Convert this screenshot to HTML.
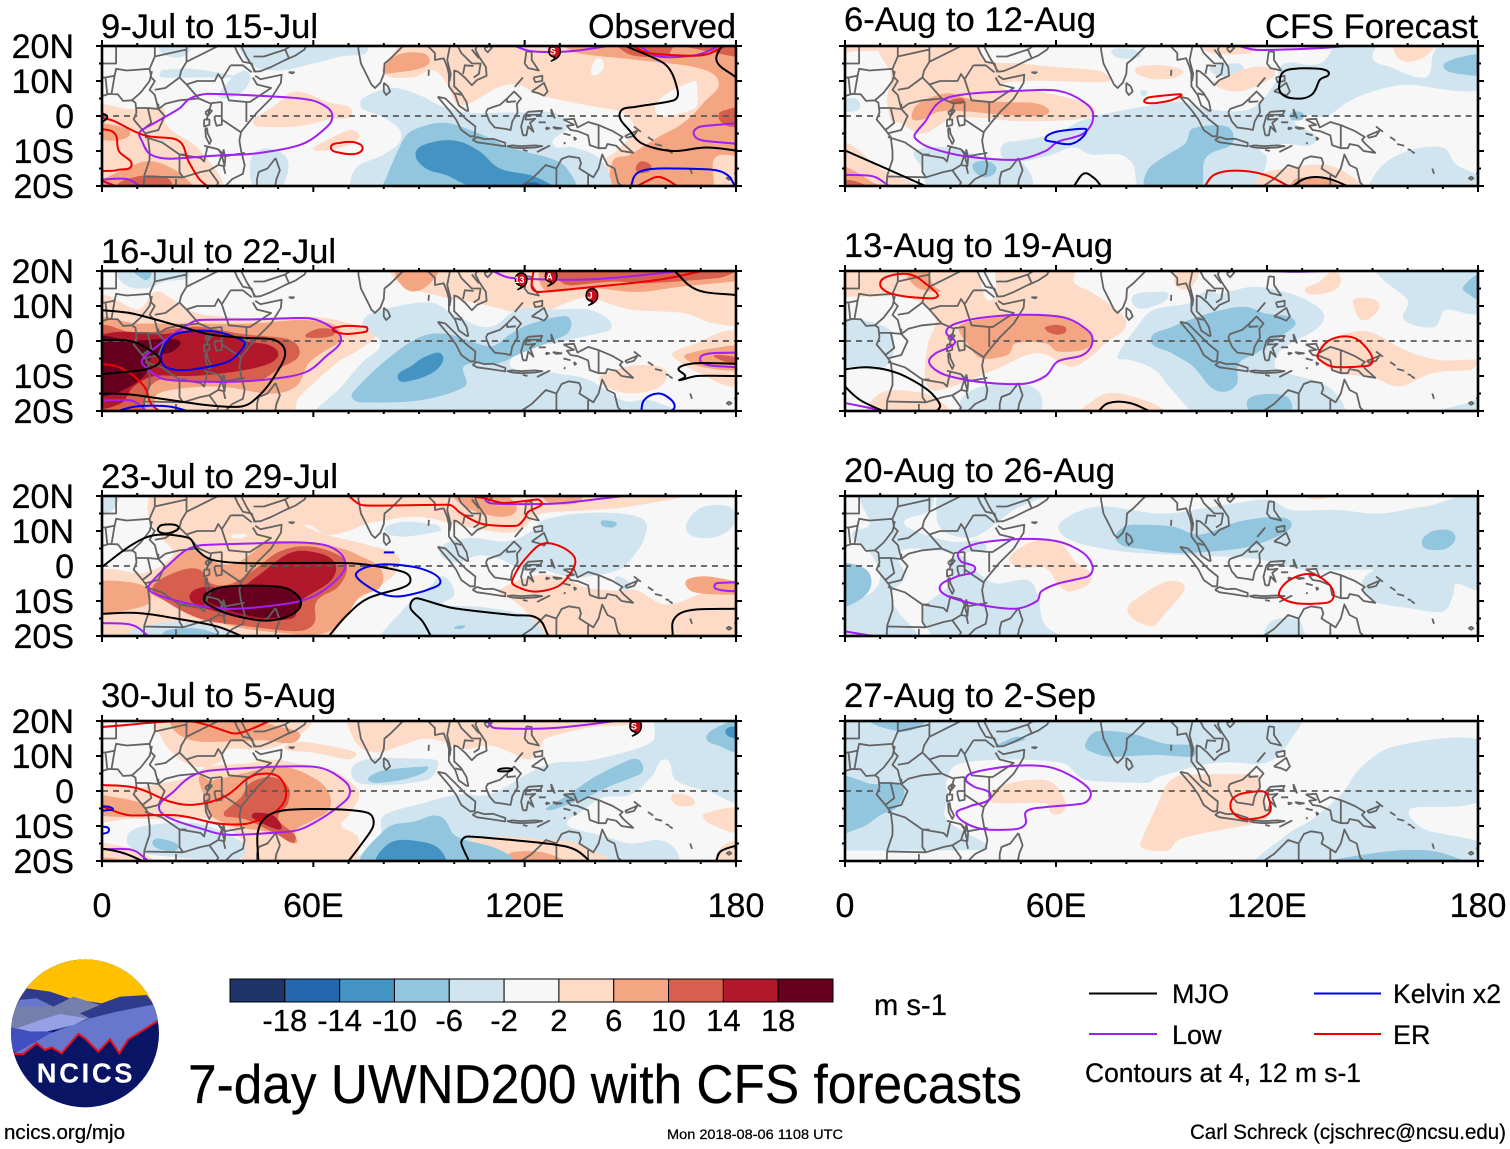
<!DOCTYPE html>
<html lang="en">
<head>
<meta charset="utf-8">
<title>7-day UWND200 with CFS forecasts</title>
<style>
html,body{margin:0;padding:0;background:#fff;}
svg{display:block;font-family:"Liberation Sans",sans-serif;}
text{fill:#000;stroke:#000;stroke-width:0.25;}
</style>
</head>
<body>
<svg id="chart" xmlns="http://www.w3.org/2000/svg" width="1510" height="1149" viewBox="0 0 1510 1149">
<rect width="1510" height="1149" fill="#fff"/>
<g id="panels"></g>

<g font-size="34">
<text x="101" y="38" textLength="217" lengthAdjust="spacingAndGlyphs">9-Jul to 15-Jul</text>
<text x="588" y="38" textLength="148" lengthAdjust="spacingAndGlyphs">Observed</text>
<text x="101" y="263" textLength="235" lengthAdjust="spacingAndGlyphs">16-Jul to 22-Jul</text>
<text x="101" y="488" textLength="237" lengthAdjust="spacingAndGlyphs">23-Jul to 29-Jul</text>
<text x="101" y="707" textLength="235" lengthAdjust="spacingAndGlyphs">30-Jul to 5-Aug</text>
<text x="844" y="31" textLength="252" lengthAdjust="spacingAndGlyphs">6-Aug to 12-Aug</text>
<text x="1265" y="38" textLength="213" lengthAdjust="spacingAndGlyphs">CFS Forecast</text>
<text x="844" y="257" textLength="269" lengthAdjust="spacingAndGlyphs">13-Aug to 19-Aug</text>
<text x="844" y="482" textLength="271" lengthAdjust="spacingAndGlyphs">20-Aug to 26-Aug</text>
<text x="844" y="707" textLength="252" lengthAdjust="spacingAndGlyphs">27-Aug to 2-Sep</text>
</g>

<g id="colorbar"></g>
<text x="874" y="1015" font-size="30" textLength="73" lengthAdjust="spacingAndGlyphs">m s-1</text>

<text x="188" y="1103" font-size="55" textLength="834" lengthAdjust="spacingAndGlyphs">7-day UWND200 with CFS forecasts</text>

<g font-size="27">
<line x1="1089" x2="1157" y1="993.5" y2="993.5" stroke="#000" stroke-width="2"/>
<text x="1172" y="1003">MJO</text>
<line x1="1314" x2="1381" y1="993.5" y2="993.5" stroke="#0000ee" stroke-width="2"/>
<text x="1393" y="1003" textLength="108" lengthAdjust="spacingAndGlyphs">Kelvin x2</text>
<line x1="1089" x2="1157" y1="1034" y2="1034" stroke="#a020f0" stroke-width="2"/>
<text x="1172" y="1044">Low</text>
<line x1="1314" x2="1381" y1="1034" y2="1034" stroke="#ee0000" stroke-width="2"/>
<text x="1393" y="1044">ER</text>
<text x="1085" y="1082" textLength="276" lengthAdjust="spacingAndGlyphs">Contours at 4, 12 m s-1</text>
</g>

<text x="1190" y="1139" font-size="21" textLength="316" lengthAdjust="spacingAndGlyphs">Carl Schreck (cjschrec@ncsu.edu)</text>
<text x="4" y="1139" font-size="20" textLength="121" lengthAdjust="spacingAndGlyphs">ncics.org/mjo</text>
<text x="667" y="1139" font-size="13.5" textLength="176" lengthAdjust="spacingAndGlyphs">Mon 2018-08-06 1108 UTC</text>

<g transform="translate(0,950) scale(0.3333)">
<defs><clipPath id="logoClip"><circle cx="255" cy="250" r="222"/></clipPath></defs>
<g clip-path="url(#logoClip)">
<rect x="20" y="20" width="470" height="460" fill="#0a1464"/>
<rect x="20" y="20" width="470" height="160" fill="#ffc000"/>
<path d="M20,200 L80,115 L150,125 L210,145 L305,160 L360,140 L440,135 L490,200 L300,240 L20,240Z" fill="#2f3b8c"/>
<path d="M30,200 L60,150 L110,145 L160,170 L220,140 L300,165 L240,190 L270,205 L100,230 L30,240Z" fill="#7480ab"/>
<path d="M60,150 L110,145 L150,168 L85,170 L50,170Z" fill="#6677cc"/>
<path d="M270,205 L350,185 L480,160 L480,210 L385,268 L358,310 L330,268 L295,305 L235,252 L185,310 L155,292 L135,300 L110,280 L70,312 L40,312 L150,250Z" fill="#6677cc"/>
<path d="M50,235 L120,210 L180,192 L262,205 L220,225 L140,245 L90,245Z" fill="#95a1e4"/>
<path d="M30,232 L90,245 L160,245 L70,295 L45,310 L30,280Z" fill="#3f4fc0"/>
<path d="M42,312 L70,312 L110,280 L135,300 L155,292 L185,310 L235,252 L255,265 L295,305 L330,268 L358,310 L385,268 L475,212" fill="none" stroke="#e8101c" stroke-width="6"/>
</g>
<text x="258" y="398" text-anchor="middle" font-size="82" font-weight="bold" letter-spacing="8" style="fill:#fff;stroke:#fff">NCICS</text>
</g>

<script>
// Axis tick labels
const lonTickLabels = ['0', '60E', '120E', '180'];
const lonTickValues = [0, 60, 120, 180];
const latTickLabels = ['20N', '10N', '0', '10S', '20S'];
const latTickValues = [20, 10, 0, -10, -20];

// Colour bar: lower edges and colours of the 11 filled bands
const bandValues = [-20, -16, -12, -8, -4, 0, 4, 8, 12, 16, 20];
const bandColors = ['#1e3468', '#2567ac', '#4393c3', '#92c5de', '#d1e5f0', '#f7f7f7', '#fddbc7', '#f4a582', '#d6604d', '#b2182b', '#67001f'];
const colorbarLabels = ['-18', '-14', '-10', '-6', '-2', '2', '6', '10', '14', '18'];

// Wave-filter contour colours
const contourColors = { MJO: '#000000', Low: '#a020f0', Kelvin: '#0000ee', ER: '#ee0000' };

// Coastlines and borders: lon,lat pairs
const coastLines = [
[-2,5,0,5.7,2,6.3,4.5,6.2,6,4.3,8.5,4.5,9.5,3.8,9.8,1,9,-1,11.5,-4,13,-6,13.5,-10,13.5,-12.5,12,-17,11.8,-21],
[43.5,11.5,45,10.5,51,11.8,50.8,9.5,48,5,44,1,41.5,-2,39.5,-4.5,39,-7,39.5,-10,40.5,-14,40,-16.5,37,-18,35,-20,35,-22],
[43.3,12.5,42.5,15,40,15.5,38.5,18,37.2,21],
[39,21,41,17,42.8,14,43.5,12.7,45,12.8,48,14,52,16,55,17.3,57.5,19,58.5,21],
[49.3,-12,50.5,-15.5,49.5,-18,49,-21],[44,-21,44,-18,44.5,-16,47,-15,49.3,-12],
[29.3,-3.5,29.5,-6,30.5,-8,31,-7,30,-5,29.8,-3.5,29.3,-3.5],
[32,0,34,0,34,-2.5,32.5,-2.8,32,-1,32,0],
[34.5,-9.5,34.2,-12,34.8,-14.3,35,-12,34.5,-9.5],
[29.3,1,30.5,2,31.2,1.5,30,0,29.3,1],
[0,21,0,15,4,15,4,21],[0,11,0,5.7],[0,11,1,11,3.5,11.5,3.7,12],[2.7,6.3,3.5,11,4,13.5,7,13,13.5,13.5],
[1.5,6.2,1,11],[8.5,4.5,11,6.7,13.5,10,14.2,12.8],[13.5,13.5,14,11,15,10,13.5,7.5,15,6,16,2],
[15,7.5,18,8,22,11],[24,21,24,15.5,22.5,13,22,11],[15,21,15,17,13.5,13.5],[15,17,24,19],
[22,11,24,9,27.5,5,31,3.5],[16,2,18,3.5,22,4.5,27.5,5],[24,9,27,10,32,10,33,12,34,10.5],
[24,15.5,37,22],[36.5,14.5,34,10.5,35,7.5,36,4.5,41,4,42,4,48,8,44,9,42.8,11],[36.5,14.5,40,14.5,42.5,12.5],
[41,4,41,-1.7],[34,4,34,0],[34,-1,39.5,-4.7],[31,3.7,34,4],[31,3.5,30,0,29.6,-1.3],
[29,-1,30.5,-1,30.5,-2.5,29,-3,29,-1],[12.2,-6,17,-7.5,22,-11,24,-11],[22,-11,28,-12,29,-13,30,-8.5],
[22,-11,22,-16,23,-17.5],[12,-17.3,23,-17.5],[21,-18,21,-21],[23,-17.5,28,-16,30.5,-15.5],
[30.5,-15.5,33,-14,34.5,-14.3,35,-16.5],[33,-9.5,34,-11,33,-14],[35,-11.5,40.5,-10.5],[30.5,-15.5,33,-19,32,-21],
[29,-8.5,33,-9.5,35,-11.5],[9.8,2.3,13,2.3,14,-2,11.5,-4],[16,3.5,16,2,17.8,0,16,-4,12,-5],[13,2.3,16,2],
[43,17,46,17,52,19,55,21],[52,19,53,16.7],
[53,12.5,54.5,12.5,54,12.2,53,12.5],
[72.8,21,72.8,19,73.5,15,75,12,76.5,9,77.5,8,79,9.5,80,12,80.2,15,82,16.5,85.5,20,87,21.5],
[80,9.5,81.2,8.5,81.8,7,80.7,6,80,7,80,9.5],
[92.8,13.2,92.7,11.5],
[91.5,22,92.5,20,94.5,18,94.5,16,97,16.5,98,14,98.5,12,98.5,8.5,100.3,6,101.3,3,103.5,1.5,104,1.5,103.5,4,102,6.5,100,8.5,100,13,101,12.7,103,11,105,8.8,106.5,10.3,109.2,11.5,109,14,107,17,106,19,107,21],
[99,21,98,16,99,12,98.7,10],[100.5,21,102,18,105,15,107.5,15,107,12,105.5,11],[105,19,107,16.5],[102.5,12,103,14.5,105.5,14.3],[100.3,6.5,102,6],
[108.7,19,109.5,18.2,110.7,19.5,110,20,108.7,19.5,108.7,19],
[95.3,5.5,97.5,5,100.5,2,103.5,-1,106,-3,105.8,-5.8,104.5,-5.8,102,-4,100.5,-1,98.7,1.5,95.3,5.5],
[105.2,-6.8,106.5,-6,108.5,-6.6,111,-6.5,114.5,-7.7,114.5,-8.7,110,-8,106.5,-7.5,105.2,-6.8],
[115,-8.6,116.5,-8.4,119,-8.6,123,-8.4,125,-8.6,123,-9,119,-9.2,116.5,-9,115,-8.6],
[123.5,-10.3,127,-8.5,125,-9.5,123.5,-10.3],
[119.5,-9.7,120.8,-10],
[109,1,109.5,2,111.5,2.7,113,3.2,115,5,117,7,119,5,117.8,3.5,118,1,116.5,-1.5,116,-4,114.5,-3.7,111.5,-3.3,110,-1.5,109,1],
[115,5,115,4,117.5,4.2],
[119.5,-5.5,119,-3,119.8,0,121,1.2,125,1.5,124.5,0.4,120.5,0.3,120.2,-1,121.5,-1,123,-0.8,121.5,-2,122.5,-4.5,121,-3,120.5,-5.5,119.5,-5.5],
[120.5,18.5,122,18.3,122,16,124,13,121,13.7,120,15,120.5,18.5],
[122,7,125.5,9.5,126.5,7,125.5,5.8,124,6.5,122,7],
[122.5,11,125,11.5,125,10,123,9.7,122.5,11],[117.2,8.3,119.5,11],
[127.5,2,128.5,-0.5,127.7,0.5,127.5,2],[128,-3.2,130.5,-3.5,129,-3.7,128,-3.2],[126,-3.3,127,-3.5,126.2,-3.8,126,-3.3],[124,-1.8,126,-1.8],[134,-6,134.6,-6.5,134.2,-6.8,134,-6],
[131,-5,133,-5.5],[131.5,-7.5,131.2,-8],
[131,-1,134,-0.8,135,-3.3,138,-1.7,141,-2.6,145,-4.3,147.8,-6,147,-6.8,148,-8,150.8,-10.5,147.5,-10,146,-8.5,143.5,-8,143,-9.2,141,-9.2,138.5,-8.3,138,-5.5,135,-4.3,133,-4,132,-2.8,134,-2.5,131,-1],
[141,-2.6,141,-9.2],
[148.5,-5.7,152,-4.2,151,-5.7,149,-6.2,148.5,-5.7],[151,-3,153,-4.5],
[155,-6,156.5,-7],[157,-8,159,-8.5],[160,-9.5,161,-9.8],[161,-10,162,-10.7],
[167,-15,167.5,-16.5],[178,-17.3,178.7,-17.8,178,-18.2,177.4,-17.8,178,-17.3],[179.5,-16.5,180,-16.2],
[112,-21,114,-21.5,119,-20,122,-18,124,-16,126,-14,129,-15,130.5,-12.3,132.5,-11.5,135.5,-12,136,-13.5,135.5,-15,139.5,-17.5,141,-15,142,-11,143.5,-14,145.5,-15,146.5,-19,148.5,-21],
[129,-15,129,-21],[138,-16.5,138,-21]
];

// Filled anomaly regions, drawn in order: [band value, lon,lat pairs]
const panel1Fill = [
[4,[80,12,82,17,88,22,182,22,182,-22,146,-22,143,-13,146,-10,151,-4,147.6,1,138,3,124,6,118,9,112,8,102,3,98,9,94,13,88,11]],
[0,[139,12,142,13,142,16,140,16]],[0,[157,2,168,10,169,7,168,2]],
[4,[-3,1.5,8,2,17,2.5,18,-2,21,-5,28,-10,33,-22,-3,-22]],
[4,[43,-1,49,3,55,7,64,4,71,1,64,-1,55,-3,44,-3]],
[4,[60,-9,70,-4,73,-6,68,-9,61,-10]],
[8,[80,13,84,17.5,91,18,93,15.5,90,13.5,84,12.5]],
[8,[130,22,135,18,152,16,168,14,175,10,171,4,165,-2,158,-6,150,-11,145,-13,146,-22,172,-22,174,-12,182,-10,182,22]],
[8,[0,-18,12,-13,20,-15,26,-20,26,-22,-3,-22,-3,-15]],
[8,[-3,-2,5,-3,8,-5,4,-7,-3,-6]],
[12,[146,22,150,17.5,160,17,163,20,172,18.5,182,17,182,22]],
[12,[178,2,175,0,178,-3,182,-2,182,2]],[12,[153,-13,156,-15,152,-16]],
[12,[5,-19,12,-17,19,-18,19,-22,5,-22]],
[-4,[74,5,82,8,90,6,96,3,104,1,116,1,128,1,132,-3,128,-8,134,-9,142,-13,143,-22,72,-22,72,-15,80,-11,85,-6,81,-1,74,2]],
[-8,[81,-17,86,-6,91,-3,98,-2,107,-5,116,-9,127,-12,132,-15,134,-22,80,-22]],
[-12,[89,-11,92,-8,100,-7,107,-10,113,-15,122,-17,128,-20,128,-22,110,-22,98,-17,92,-15]],
[-16,[119,-20,123,-19,127,-21,127,-22,120,-22]],
[-4,[17,13,25,13.5,35,12,38,11,28,11,17,11]],[-4,[17,22,17,18,23,17,25,22]],
[-4,[40,22,42,15,50,13,60,15,68,17,75,18,74,22]],[-4,[33,6,38,12,42,12,40,7,35,5]],
[-4,[44,-10,50,-10,53,-14,50,-22,44,-22,42,-15]]
];
const panel1Lines = [
['Low',[10.8,-4.5,15.6,-1.6,22,2.2,25,5,30,6.3,44.4,5.8,56.4,5,62,3.6,65.4,0,62.4,-4.4,56.4,-8.2,44.4,-10.6,32.4,-11.3,19.2,-12.2,13.8,-11,11.4,-7.3],true],
['Low',[116,20.5,122,18.5,133,18.5,147,20.5]],['Low',[152,20.5,158,17,169,17.5,176,20.5]],
['Low',[181,-2,170,-3,168,-5,170.5,-7,181,-8]],['Low',[-1,-18.2,7,-18,11.5,-20.5]],
['ER',[150,20.5,155,18,170,17.3,178,20.5]],
['ER',[-1,-0.2,3.6,-1.5,12,-5.5,21.6,-7,24.6,-13,27.6,-18,30.6,-20.5]],
['ER',[-1,-3.5,3.6,-5,4.8,-10,8.4,-14,4,-15.5,-1,-17,4.8,-20.5]],
['ER',[65,-9,68,-7.6,72,-7.6,74,-9.2,72,-10.8,68,-10.6],true],
['ER',[151,-20.5,157,-17.5,160,-18,164,-20.5]],
['Kelvin',[150,-20.5,152,-16.3,158,-15,173,-15.3,177.5,-16.8,180,-20.5]],
['MJO',[147.6,20.5,159.6,15,163,9,162.6,4.6,152,2.7,147,0.8,150,-4.4,153.6,-8,162,-10,171.6,-9,181,-10]],
['MJO',[176,20.5,174.6,15.5,180,11]],['MJO',[0,0.8,1.5,-0.3,0,-1.8]]
];
const panel2Fill = [
[4,[-3,12,10,9,15,14,20,12,27,8,35,7,44,6.5,56,7,64,6.5,74,4,78,2,73,-2.5,67,-6,56,-16,53,-22,-3,-22]],
[8,[-3,5,10,5,26,5,42,5,56,6,65,5,68,2,67,-0.6,59,-6,55,-13,47,-15,32,-13,16,-15,14,-22,-3,-22]],
[12,[-3,3,10,2,20,3.5,28,4,40,2,53,0.5,56,-4,50,-8,45,-11,30,-11.5,17,-11,13,-14,10,-22,-3,-22]],
[12,[58,2,62,3.6,66,2.5,63,1,58,1]],
[16,[-3,0,18,2,30,3,40,0,47,-1,50,-4,46,-7,36,-9,25,-10,15,-10,9,-13,5,-18,-3,-18]],
[20,[-3,0,8,0,16,0.5,22,0,20,-3,14,-5,12,-10,6,-14,0,-16,-3,-16]],
[4,[82,22,85,16,95,13,100,12,110,10,120,7.5,125,8,135,12,140,12,150,9,165,8,174,5,182,6,182,22]],
[4,[162,-3.5,168,-1,182,2,182,-12,169.5,-9,164,-6]],
[4,[141.5,-10,151,-7,159.6,-8,158.5,-13,150,-15,143,-13]],
[8,[86,15,92,15.5,95,22,84,22]],
[8,[126,14.5,140,15,152,14,164,15.5,182,17.5,182,22,126,22]],
[12,[128,20,132,16,145,17,155,16.5,175,18,180,20,180,22,128,22]],
[8,[165.5,-4,174,-2,182,-2,182,-8,171.5,-7.7,167,-6]],
[12,[174,-4,182,-5,182,-7,177,-6]],
[-4,[61,-22,68,-13,74,-6,79,-0.6,74,5,80,9,93,11,101,7,110,4,118,9,127,9,138,9,144,6,144,3,132,0,116,-5.5,128,-9,138,-11,148,-17,156,-17,165,-22]],
[-4,[4,22,6,16.5,12,15,18,17,24,18,24,22]],
[-8,[8,22,12,17.5,14,19,13,22]],
[-8,[71,-15,80,-6,90,1,98,2,110,-1.5,116,2,122,5,132,7,132,2,119,-3.5,112,-6.5,103,-7,103,-13,90,-17,73,-17.5]],
[-12,[84,-10.6,88,-7,92.4,-4.2,96.6,-4,95,-8.2,89,-11]]
];
const panel2Lines = [
['Low',[11.4,-5.4,16.8,-0.6,23.4,4,27.6,6,44.4,6.2,58.8,6.5,65.4,3.7,67.8,0,63.6,-4.4,57.6,-9,46.8,-11,32.4,-11.7,18,-11,13.2,-8.2],true],
['Low',[-1,-17,8.4,-17,12.6,-20]],['Low',[109.8,20.5,116.4,18,140,17.7,169,20.5]],
['Low',[181,-3.3,172.8,-3.5,169.8,-5.2,172.8,-7,181,-7.5]],
['ER',[-1,-6.3,6,-8,12,-13,13.8,-17.7,16.8,-20.5]],
['ER',[65.7,3.7,69.6,4.3,75,4,75,2.7,69.6,2,66,2.7],true],
['ER',[122.6,20.5,122,15.5,124,14,140,15.5,158,17.5,172.7,20.5]],
['Kelvin',[16.8,-4.4,19.2,0.8,24,2.7,32.4,2.7,39.6,0.3,40.6,-1,36,-5.8,25,-8.2,18.6,-7.7],true],
['Kelvin',[3,-20.5,9.6,-18.7,19,-18.7,25.8,-20.5]],
['Kelvin',[153,-20.5,154,-16.8,157.8,-15,161,-16.3,162.6,-18.7,161,-20.5]],
['MJO',[-1,8.9,8.4,7.9,22.8,4,31,1.8,40.5,0.9,49,0.3,52,-3.5,49,-10,44.4,-15.8,39.6,-18.7,28.8,-18.2,8.4,-15.3,-1,-15]],
['MJO',[-1,0.3,8.4,-0.1,15.6,-4,16.2,-6.3,12,-8.2,-1,-9.6]],
['MJO',[162,20.5,169,14.6,181,13]],
['MJO',[181,-6.5,169,-6.3,163.8,-7.7,165.6,-10,164,-11.2,169,-10,181,-10]]
];
const panel3Fill = [
[4,[13,15,16,22,170,22,150,17,125,15,118,10,110,10,100,12,90,14,80,13,75,12,70,10,64,9,58,11.7,63.6,9,75.5,6,84,3,83,-2.5,75.5,-8,68,-13,63.5,-22,-3,-22,-3,-3,12,-2,20,3,17,8]],
[4,[113,-7,122,-3,130,-3,137,-6,145,-7,152,-7,160,-11,170,-8,178,-6,182,-3,182,-22,125,-22,122,-15,117,-10]],
[0,[37,9,41,9,40,8,37,8]],
[8,[166,-4,172,-3,182,-5,182,-8,172,-8,167,-7]],[8,[125,22,127,18,135,18,136,22]],[8,[100,22,112,22,117,15,105,16]],
[8,[-3,-5,10,-5,14,-9,10,-12,-3,-13]],
[8,[13,-6,18,-1,25,4.5,31,1.5,37,0.5,43,4,47,7,58.7,6.7,68,5,73,3,79,-0.6,79,-6,73,-9,64.8,-18.6,49.6,-19,32.4,-16,18,-10,14,-8]],
[12,[14.4,-6,21.6,-1.5,27.6,-1,31,-5,37,-5,44,-0.5,50.6,4.2,58.7,5.6,67,3.2,69.6,-0.5,67,-6,61,-10,60,-16.7,54,-18.6,38,-16.8,27.6,-15,18,-10]],
[16,[25,-8,29,-6,38,-6.5,44,-3,52.8,3.5,60,4,66,1,64.8,-4.4,56.4,-10,54,-15,42,-15.3,32.4,-13,26.4,-11]],
[20,[28.8,-8.2,33.6,-6.3,49.7,-5.8,56.4,-9,55,-13.4,46.8,-14.9,37.2,-13,31,-10.6]],
[-4,[80,-22,85,-13,93,-6,97,-3,100,-8,97,-11,110,-12,122,-15,125,-22]],
[-8,[100,-17.5,103,-17,102,-18]],
[-4,[80.4,11,86,12.7,95,11.7,96,10,86.5,8.4,81.6,9]],
[-4,[96,5,104,8,115,7,122,10,125,13,135,15,147,15,154,13,154,8,151,3,147,-1,138,-3,132,-3,125,-1,122,-2,117,0,113,2,107,3,100,1]],
[-4,[166,10,167,14,171,17,178,17,180,13,176,9,170,8]],
[-8,[142,13,146,12.5,145,11,142,11.5]],
[-4,[146,-3,150,-5,149,-7,147,-6]],
[-4,[-3,22,4,22,3,16,-3,15]],
[-4,[8,-18.6,18,-16,26,-16.4,37,-18.6,40,-22,10,-22]],
[-8,[18,-18.5,28,-18,35,-22,18,-22]]
];
const panel3Lines = [
['Low',[13.2,-5.8,19,0.4,24,4.6,28.8,6,44.4,6.5,56.4,6.7,64.8,5.5,69,1.3,67,-3.5,58.8,-9.2,46.8,-11.5,34.8,-12.2,24,-10.6,15.6,-8.2],true],
['Low',[108,20.5,110,18,121,17.7,131,18,152,20.5]],
['Low',[181,-4.6,174.6,-4.9,174,-6.3,176.4,-7,181,-7.3]],
['Low',[-1,-16.3,8.4,-16.8,13.8,-20.5]],
['ER',[69.4,20.5,74.4,17.3,98.4,17.5,102,15,108,12,117.6,11.5,120,13.6,121,15.5,124.8,17.5,123.6,19,114,18,108,19.5,99.6,20.5]],
['ER',[116.4,-4.4,118.8,0.3,123.6,5.6,127,6.5,132,4.6,134.4,1.3,132,-3.5,128.4,-6.3,122.4,-7.3,117.6,-5.8],true],
['Kelvin',[72.2,-3,74.4,-0.6,80.4,0.5,90,-0.6,96,-4,92.4,-6.8,84,-8.7,78,-7.3],true],
['Kelvin',[80,3.9,83,3.9]],
['MJO',[-1,-1,8.4,6,15.6,8.9,24.6,8,27,4.6,31.2,1.8,40.8,0.8,70.8,0.8,85,-1.5,87.6,-4,85,-6.3,75.6,-9.2,69.6,-14,64,-20.5]],
['MJO',[16,10,17,11.7,21.6,11.3,19,9.4],true],
['MJO',[29,-9,33,-6.3,42,-5.6,52,-6.3,56.4,-10,54,-13.8,46.8,-15.6,37,-14,31,-11.5],true],
['MJO',[-1,-13.7,9.6,-13.4,20.4,-14.9,32.4,-17.2,40.8,-20.5]],
['MJO',[93.6,-20.5,91,-15.8,87.6,-12,89.4,-9.2,99.6,-12,116.4,-14,123.6,-14.9,127,-20.5]],
['MJO',[162,-20.5,162.6,-14.9,168,-12.5,181,-12.2]]
];
const panel4Fill = [
[-4,[72,-22,79,-13,80,-7,91,-3.5,101,-1,110,-1,121,5,128,8,140,9,156,14,158,22,182,22,182,-2,172,0,163,3,160,9,156,4,150,-1,142,-2,136,-6,132,-9,135,-11,143,-13,150,-15,158,-14,163,-17,163,-22]],
[4,[15,22,60,22,56,16,47,12,36,12,33,8,26,7,20,11,17,15]],
[4,[-3,1,10,1,25,4,30,7,42,8,48,9,55,8,65,6,70,3,73,-1,70,-7,68,-10,73,-14,69.6,-22,40.8,-22,39.6,-14,30,-8,20.4,-8,8.4,-8,-3,-8]],
[4,[71,22,72,14,78,11,85,13,92,15,100,13,104,12,110,13,116,11,121,9,124,11,126,15,138,18,150,19,152,22]],
[4,[52,12,60,11,70,9,72,11,64,13,56,14]],
[4,[102,-22,103,-15,112,-13,127,-14,135,-15,145,-22]],
[4,[162,-1,167,-1.5,168,-4,163,-4]],[4,[171,-6.5,182,-5,182,-12,172,-9]],[4,[176,-16,182,-15,182,-22,175,-22]],
[4,[-3,-15,10,-17,15,-22,-3,-22]],
[8,[20,18,24,15,30,14,45,14.5,56,15,48,19,38,22,20,22]],
[8,[27.6,4,31,3,40,5,51,7,61,3.2,64.8,-1.6,63.6,-6.3,55,-11,55,-15,49,-12,37,-10,30,-6.3,29,-1.5]],
[8,[-3,-2,5,-2,12,-4,12,-7,0,-7]],
[8,[116,-17.7,126,-17.7,132,-22,116,-22]],[8,[-3,-19,5,-19.5,12,-22,-3,-22]],
[12,[34.8,-5.8,39.6,-1.6,42,2.2,48,4,52.8,1.3,52.8,-3.5,50,-8,55,-14,49,-12,41,-8.2,35,-7.3]],
[16,[42.6,-6.8,45.6,-6.3,49,-7.3,51,-10.6,48.6,-10.6,44.4,-8.7]],
[-4,[70.8,6,74.4,8.9,82.8,9.4,94.8,8.9,95,6,92.4,3.2,82.8,1.8,73,2.3]],
[-8,[75.6,3.7,80.4,6,92.4,7,91.2,5.1,85.2,3.2,78,2.3]],
[-8,[133,-0.6,140,4.1,150,9,153,8.4,153,5,144,1.3,138,-1.6,128,-5.4,126,-5]],
[-8,[171.6,15.5,176.4,19,182,20,182,11.7,175,13]],
[-12,[177,17,182,15,182,18]],
[-8,[74.4,-22,80.4,-11,88.7,-8.7,96,-7.3,100.7,-13,110.3,-15.8,116,-18.7,116,-22]],
[-12,[78.5,-22,81.5,-15,90,-14.4,96,-16.8,97,-22]],
[-4,[7,-13.8,12,-10,26.4,-9.2,37,-13,40.8,-16.8,37,-20,12,-18]],
[-8,[14.4,-14.4,18,-13.9,21.6,-16.3,16.8,-16.8]]
];
const panel4Lines = [
['Low',[16.2,-4.4,20.4,-0.1,25.2,4.1,31.2,5.9,50.4,7,61.2,6.8,67.2,4.1,70.4,-0.1,67.2,-4.4,60,-9.2,54,-11.5,36,-12.5,27.6,-10.6,19.2,-7.7],true],
['Low',[108.9,20.5,111.5,18,128.3,18,150,20.5]],['Low',[-1,-16.6,8.4,-16.8,13.2,-20]],
['ER',[-1,18.2,24,20,37,16.5,41.6,17.4,48.6,20.5]],
['ER',[-1,1.8,9.6,0.9,19.2,-3,26.4,-3.9,34.8,-1.6,40.8,3.2,44.4,4.8,49.2,4.6,51.6,2.2,52.2,-1.6,50.4,-4.9,46.8,-7.3,40.8,-9.4,32.4,-9.2,21.6,-7,8.4,-7,3.6,-5.8,-1,-3.9]],
['Kelvin',[-1,-4.3,2,-4.5,3,-5.3,-1,-5.7]],['Kelvin',[-1,-10,2,-11.1,-1,-12.5]],
['MJO',[44.4,-20.5,44.2,-12,46.8,-7.3,52.8,-5.4,66,-5.2,75.6,-6.3,77,-10,73.2,-15.8,69.6,-20.5]],
['MJO',[104.4,-20.5,102,-14.9,103.8,-13,116.4,-14,128.4,-15.3,134.4,-16.8,139,-20.5]],
['MJO',[-1,-16.3,6,-17.7,12.6,-20.5]],['MJO',[174.2,-20.5,175.7,-17.2,181,-15.3]],
['MJO',[112.5,6,115,6.5,116.4,6,114,5.6],true]
];
const panel5Fill = [
[-4,[45,-8,50,-7,60,-5,68,-1,81,2,95,4,103,2,115,2,122,9,125,15,135,15,142,22,182,22,182,8,160,9,150,7,143,4,137,0,128,-1,134,-7,125,-8,118,-9,120,-12,118,-18,112,-22,85,-22,82,-14,78,-11,70,-11,65,-9,59,-11,55,-12,50,-13,45,-12]],
[-4,[20,-10,30,-9,40,-12,50,-13,52,-22,25,-22,22,-15]],
[-4,[150,-22,152,-15,160,-10,170,-9,174,-14,182,-18,182,-22]],
[-4,[76,19,82,19,84,17,78,16.5]],[-4,[84,7,86,7,85,5.7]],[-4,[-3,4,3,5,4,2,0,1,-3,0]],[-4,[104,14,112,15,113,12,106,11.5]],
[0,[150,17,155,14,165,11,167,17,168,22,155,22]],
[4,[10,22,37,22,40,16,50,15,60,14,72,13,75,10,66,9.8,52,10,45,8,55,7,68,4,71,1,66,-1,50,-1.5,38,-0.5,30,-1,22,-5,16,-2,13,-1,12,5,13,12]],
[4,[-3,22,8,22,10,19,3,18.5,-3,18]],[4,[83,14,90,14.5,96,13,94,11,88,10.5,83,12]],
[4,[100,22,118,22,115,18,104,18]],[4,[105,9,112,7,120,10,122,13,116,14,108,11]],[4,[157,22,167,22,165,17,158,16]],
[4,[117,-22,118,-17,125,-15,137,-14,145,-18,147,-22]],
[4,[-3,-8,10,-15,20,-22,-3,-22]],[8,[-3,-14,8,-19,12,-22,-3,-22]],[12,[-3,-18,7,-22,-3,-22]],
[8,[19,-0.5,21,3.7,29,6.5,35,5,45,4,54,3.7,58,1.7,56,0,45,0.3,35,1.3,27,1.3,22,-1]],
[12,[30,4,32,5,34,4.6,33,3.4]],
[8,[128,-18,137,-18,141,-22,128,-22]],
[-8,[170.4,15,175.8,17,182,17,182,12,175,12,171,13]],
[-8,[86.4,-15,96.6,-8,99,-3.5,108.6,-3,110,-8,102.6,-12,100,-22,86.4,-22]],
[-8,[36.6,-13.5,41,-13,43,-15.5,40,-17.5,37,-16]],
[-8,[127,1,130,1,130,-1,127,-1]]
];
const panel5Lines = [
['Low',[19.8,-5.4,22.8,-1.6,27,4.1,34.2,6.2,49.8,7.2,60.6,7.2,67.8,4.1,70.6,0,67.8,-5,60.6,-7.3,57,-10,48.6,-12.5,34.2,-11.5,24.6,-9.2,21,-7.3],true],
['Low',[110.4,20.5,117,18.9,135,19.4,148,20.5]],['Low',[-1,-16.8,7.8,-17.2,12.6,-20]],
['Kelvin',[57,-6.3,60.6,-4.4,68.3,-3.7,67.8,-5.8,64.2,-8,59.4,-7.4],true],
['ER',[85.2,4,86.4,5.3,95.4,6.2,93,4.6,88.2,3.7],true],
['ER',[102,-20.5,105,-16.8,111,-15.6,119.4,-16.8,127,-20.5]],
['MJO',[124.8,12.7,129,13.6,135.6,13.4,137.6,12,135,10.3,132.6,6,127.8,5,124,6.5,123.6,9.8],true],
['MJO',[-1,-9.4,11.4,-14.9,24,-20.5]],['MJO',[64.8,-20.5,67.8,-16.5,70.8,-17.7,73.2,-20.5]],
['MJO',[126.6,-20.5,131.4,-17.7,137.4,-17.9,144,-20.5]]
];
const panel6Fill = [
[4,[-3,22,66,22,65,17,70,14,76,9.8,80,4.6,74,-0.6,70,-4.4,64,-7.3,54.6,-3.5,42.6,-8.2,30.6,-13,23.4,-13,23.4,-1.6,25.8,6,22,10.8,15,12.7,4,12.7,-3,14]],
[0,[38,22,42,22,43,13,40,12]],
[4,[94,19,100,22,99,16,95,15]],[4,[7,-22,10,-15,20,-14.5,27,-17,30,-22]],[4,[67,-22,72,-16,78,-15,88,-18,92,-22]],
[4,[134,-3.5,137,0,148,2.8,159,-2.5,168.6,-5.4,179.4,-5.4,178,-8.2,167,-9.2,157.8,-13,150.6,-10.6,141,-9.2,136,-6.8]],
[4,[131,14,135,17,139,20,141,17,138,14]],[4,[145,12,150,12,152,10,150,7,147,6,145,9]],
[8,[33,4.6,47.4,7.2,61.8,7.2,67.8,4,70.4,0.4,67.8,-2.5,60.6,-3,57,-0.6,48.6,-0.6,46.2,-4,39,-5,35.4,-1.5]],
[8,[18,20,22,22,25,16,27,14,21,15,18,18]],
[12,[57,4,60.6,4.6,63,3.2,60.6,1.8,57.6,2.7]],
[8,[148,-5.5,150,-5.5,149.5,-6.5]],
[-4,[77.4,-4.4,83,4,88,9,98,10.8,102,14,107.4,13.6,117,15.5,129,12.7,136,8,133.8,3.2,124,-2.5,123,-8.2,137.4,-13,141,-22,102.6,-22,93,-14,88,-8.2,81,-5.4]],
[-4,[151.8,22,160,11.7,159,6,167.4,4,171,8.9,182,8.9,182,22]],
[-8,[175.8,15.5,182,19,182,12,177,13.6]],
[-4,[82,13,88,14,92,13,88,10,83,9.5]],
[-4,[0,6.5,9,5,13.8,1.3,11.4,-7.3,1.8,-7.3,-3,-8,-3,6]],
[-4,[33,-16.8,39,-13,49.8,-12,55.8,-15.8,53.4,-22,34.2,-22]],
[-4,[168.6,-22,177,-17.7,182,-17,182,-22]],
[-8,[87,0.3,93,4,103.8,8,113.4,9.8,119.4,7.9,127.8,6,124,1.3,117,-3.5,112,-6.5,111,-13,105,-13.9,99,-7.3,93,-3.5]],
[-8,[115,-16.3,125.4,-15.8,126,-22,117,-22]]
];
const panel6Lines = [
['Low',[24,-6.3,25.8,-3.5,31.2,-0.6,28.8,2.3,30.6,4.6,37.8,6.5,49.8,7.5,61.8,6.8,67.8,4,70.4,0.4,67.8,-3.9,60.6,-5.8,57,-10,51,-12.2,39,-11.8,28.2,-9.6],true],
['Low',[117,20.1,129,19.8,141,20.1]],['Low',[-1,-17.5,11.4,-20]],
['ER',[10,16.5,12.6,18.6,18.6,19,23.4,16,26.4,13.2,25,12.2,17.4,12.7,12,14],true],
['ER',[134.4,-4,137.4,0,142.8,1.3,147,-0.6,150,-5.8,145.8,-7.3,138.6,-7.3,135,-5.4],true],
['MJO',[-1,-8.2,6.6,-7.5,15,-9.2,23.4,-13.9,27,-18.2,25.8,-20.5]],
['MJO',[-1,-12,4.2,-16.8,12,-20.5]],
['MJO',[71.6,-20.5,75,-17.7,81,-17.7,87.6,-20.5]]
];
const panel7Fill = [
[-4,[5,22,24,22,24,16,17,13,20,10,30,7,40,6,32,4,20,5,15,3,17,-3,13,-8,15,-13,20,-22,-3,-22,-3,-12,7,-8,10,-3,7,4,2,9,7,12]],
[-4,[28,22,58,22,48,16,40,10,35,8,28,10,26,15]],
[-4,[23,-11,30,-5,30,1,33,3,38,-2,43,-5,52,-4,55,-9,57,-17,64,-22,28,-22,22,-15]],
[-4,[61,12,72,17,90,15,105,17,120,19,127,16,140,16,152,15,165,17,182,18,182,-6,174,-5,173,-8,170,-13,160,-12,150,-10,147,-5,148,-3,150,-1,130,-1,117,2,100,3,80,4,65,7]],
[-4,[120,-22,121,-16,128,-15,130,-17,130,-22]],
[-8,[77,8.9,81,11.7,93,11.3,101,9,112,12.7,123,14,127,11.7,122,8,112.2,5,95.4,3.7,83.4,5,78.6,6]],
[-8,[164.4,8,168.6,10.3,173.4,8.9,171,5,165,5]],
[-8,[-3,-0.6,5.4,-0.6,7.2,-6.3,1.8,-11,-3,-11]],
[4,[46.8,2.4,53.4,7,60.6,7,65.4,1.3,70.2,-3.5,64.2,-7.3,60.6,-5.4,57,-0.6,49.8,-0.6]],
[4,[80.4,-13,84.6,-8.2,91.8,-4.4,96.6,-6.3,90.6,-14,87,-17.2]],
[4,[130,21,138.6,21,134,19]]
];
const panel7Lines = [
['Low',[27,-5.8,31.8,-3,37,-1,33,1.3,32.4,4,37.8,6.5,49.8,7.7,60.6,7,67.8,3.7,70.4,-0.2,69,-3,60.6,-5,55.8,-7.3,54.6,-10,48.6,-12.2,37.8,-11,29.4,-8.7],true],
['Low',[-1,-18.5,7.8,-20]],
['ER',[123.4,-7.7,126.6,-3.9,132.6,-2.3,137.4,-5,139,-8.2,137.4,-10.4,130,-10.8,125.4,-9.8],true]
];
const panel8Fill = [
[-4,[-3,22,129,22,126,13.6,119.4,8,105,8,89,4,85.8,2.3,68.4,3.2,61.8,8,45,9,31.8,7.5,28.8,2.3,29.4,-1.6,28.8,-8.2,40.2,-15,40.2,-16.8,26,-17,0,-17,-3,-17]],
[-4,[182,14,157,13,147,7,141,-1,133,-8,125,-13,117,-22,182,-22,182,-15,165,-11,161,-5,182,-2]],
[-8,[-3,3,7.8,2,16.2,1.3,15,-4.4,10.2,-6.8,4.2,-10.6,-3,-11]],
[-8,[7,22,17,17,22.8,22]],[-8,[43,13,48.6,15.5,51,14.6,43.8,12.7]],
[-8,[68.4,13.6,71.4,17,81,16.5,90.6,13.6,99,13,99,9.8,88,10.3,75,9.8,69,11.7]],
[-8,[135,-22,150.6,-17.7,167.4,-17.2,177,-22]],
[4,[41,-0.6,47.4,2.4,58,2.9,62.4,-2.5,62,-6,58.8,-6.4,57,-3.5,42.6,-3.5]],
[4,[84,-14.9,89,-3.5,91.8,2.3,96.6,4.6,117,4.6,118.2,0.3,120.6,-6.3,117,-9.2,102,-12,94.8,-14,91.8,-17,85.8,-16.8]],
[4,[141,21,148,21,144,19.5]]
];
const panel8Lines = [
['Low',[31.8,-6.8,35.4,-4.4,41.4,-1.6,36.6,1.3,34.4,3.7,37.8,5.6,48.6,7.2,58.2,6.8,65.4,3.7,69.8,-0.2,67.8,-3.5,57,-4.6,51.6,-5.8,51.2,-9.6,47.4,-11,37.8,-10.6],true],
['ER',[109.6,-3.9,112,-1,118.8,-0.1,120.6,-2.5,120.6,-6.3,115.8,-8,111.6,-7.3],true]
];

// Tropical cyclone markers: panel index, lon, lat, label
const cycloneMarks = [
[0,128,18.5,'S'],[1,118.5,17.5,'13'],[1,127,18.5,'A'],[1,138.6,13,'J'],[3,151,18.5,'S']
];

// Panel layout
const panelFrames = [
{left:102,right:736,top:46},{left:102,right:736,top:271},{left:102,right:736,top:496},{left:102,right:736,top:721},
{left:845,right:1478,top:46},{left:845,right:1478,top:271},{left:845,right:1478,top:496},{left:845,right:1478,top:721}
];
const panelFills = [panel1Fill,panel2Fill,panel3Fill,panel4Fill,panel5Fill,panel6Fill,panel7Fill,panel8Fill];
const panelLines = [panel1Lines,panel2Lines,panel3Lines,panel4Lines,panel5Lines,panel6Lines,panel7Lines,panel8Lines];

const NS = 'http://www.w3.org/2000/svg';
const PANEL_H = 140;
function svgEl(tag, attrs, parent) {
  const el = document.createElementNS(NS, tag);
  for (const k in attrs) el.setAttribute(k, attrs[k]);
  if (parent) parent.appendChild(el);
  return el;
}
function lonScale(f, lon) { return f.left + lon / 180 * (f.right - f.left); }
function latScale(f, lat) { return f.top + (20 - lat) / 40 * PANEL_H; }
function bandColor(v) {
  const i = bandValues.indexOf(v);
  return bandColors[i < 0 ? 5 : i];
}
function toPoints(f, flat) {
  const pts = [];
  for (let i = 0; i < flat.length; i += 2) pts.push([lonScale(f, flat[i]), latScale(f, flat[i + 1])]);
  return pts;
}
// Smooth curve through points; handle length is limited by the shorter neighbouring
// segment so long straight edges do not overshoot at corners.
function smoothPath(pts, closed) {
  const n = pts.length;
  const at = i => closed ? pts[(i + n) % n] : pts[Math.max(0, Math.min(n - 1, i))];
  const dist = (a, b) => Math.hypot(a[0] - b[0], a[1] - b[1]);
  const handle = i => {
    const a = at(i - 1), b = at(i), c = at(i + 1);
    const chord = dist(a, c) || 1;
    const len = Math.min(dist(a, b) || dist(b, c), dist(b, c) || dist(a, b)) / 2.6;
    return [(c[0] - a[0]) / chord * len, (c[1] - a[1]) / chord * len];
  };
  let d = 'M' + pts[0][0].toFixed(1) + ',' + pts[0][1].toFixed(1);
  const last = closed ? n : n - 1;
  for (let i = 0; i < last; i++) {
    const p1 = at(i), p2 = at(i + 1), h1 = handle(i), h2 = handle(i + 1);
    d += 'C' + (p1[0] + h1[0]).toFixed(1) + ',' + (p1[1] + h1[1]).toFixed(1) + ' ' + (p2[0] - h2[0]).toFixed(1) + ',' + (p2[1] - h2[1]).toFixed(1) + ' ' + p2[0].toFixed(1) + ',' + p2[1].toFixed(1);
  }
  return d + (closed ? 'Z' : '');
}
function polyPath(pts) {
  return 'M' + pts.map(p => p[0].toFixed(1) + ',' + p[1].toFixed(1)).join('L');
}

const root = document.getElementById('panels');
const defs = svgEl('defs', {}, root);
panelFrames.forEach((f, idx) => {
  const cp = svgEl('clipPath', { id: 'clip' + idx }, defs);
  svgEl('rect', { x: f.left, y: f.top, width: f.right - f.left, height: PANEL_H }, cp);

  const g = svgEl('g', {}, root);
  
  

  const inner = svgEl('g', { 'clip-path': 'url(#clip' + idx + ')' }, g);
  const bg = svgEl('rect', { x: f.left, y: f.top, width: f.right - f.left, height: PANEL_H, fill: bandColors[5] }, inner);
  
  

  panelFills[idx].forEach(item => {
    const p = svgEl('path', { d: smoothPath(toPoints(f, item[1]), true), fill: bandColor(item[0]) }, inner);
    
    
  });

  const eqY = latScale(f, 0);
  [[0, 10], [42, 180]].forEach(seg => {
    const eq = svgEl('line', { x1: lonScale(f, seg[0]), x2: lonScale(f, seg[1]), y1: eqY, y2: eqY, stroke: '#5a5a5a', 'stroke-width': 1.8, 'stroke-dasharray': '6 5' }, inner);
    
    
  });

  const coast = svgEl('path', { d: coastLines.map(c => polyPath(toPoints(f, c))).join(''), fill: 'none', stroke: '#636363', 'stroke-width': 1.8, 'stroke-linejoin': 'round' }, inner);
  
  

  panelLines[idx].forEach(item => {
    const p = svgEl('path', { d: smoothPath(toPoints(f, item[1]), !!item[2]), fill: 'none', stroke: contourColors[item[0]], 'stroke-width': 2 }, inner);
    
    
  });

  cycloneMarks.filter(m => m[0] === idx).forEach(m => {
    const cx = lonScale(f, m[1]), cy = latScale(f, m[2]);
    const mark = svgEl('g', {}, inner);
    
    
    svgEl('path', { d: 'M' + (cx - 2) + ',' + (cy + 10) + 'q4,-2 4,-4 q-6,-1 -6,-6 q0,-6 6,-7 q6,1 5.5,8 q-0.5,6 -9.5,9Z', fill: '#c8101c', stroke: '#000', 'stroke-width': 1.4 }, mark);
    const t = svgEl('text', { x: cx, y: cy + 3, 'text-anchor': 'middle', 'font-size': 9, 'font-weight': 'bold', style: 'fill:#fff;stroke:none' }, mark);
    t.textContent = m[3];
  });

  // Frame and ticks
  const frame = svgEl('rect', { x: f.left, y: f.top, width: f.right - f.left, height: PANEL_H, fill: 'none', stroke: '#000', 'stroke-width': 2.6 }, g);
  
  
  let ticks = '';
  for (let lon = 0; lon <= 180; lon += 10) {
    const x = lonScale(f, lon), len = lon % 60 === 0 ? 6 : 3;
    ticks += 'M' + x + ',' + f.top + 'v' + (-len) + 'M' + x + ',' + (f.top + PANEL_H) + 'v' + len;
  }
  for (let lat = -20; lat <= 20; lat += 5) {
    const y = latScale(f, lat), len = lat % 10 === 0 ? 6 : 3;
    ticks += 'M' + f.left + ',' + y + 'h' + (-len) + 'M' + f.right + ',' + y + 'h' + len;
  }
  const tk = svgEl('path', { d: ticks, stroke: '#000', 'stroke-width': 2, fill: 'none' }, g);
  
  

  if (idx < 4) {
    latTickValues.forEach((v, i) => {
      const t = svgEl('text', { x: 74, y: latScale(f, v) + 12, 'text-anchor': 'end', 'font-size': 34 }, g);
      
      
      t.textContent = latTickLabels[i];
    });
  }
  if (idx === 3 || idx === 7) {
    lonTickValues.forEach((v, i) => {
      const t = svgEl('text', { x: lonScale(f, v), y: 917, 'text-anchor': 'middle', 'font-size': 34 }, g);
      
      
      t.textContent = lonTickLabels[i];
    });
  }
});

// Colour bar
const cb = document.getElementById('colorbar');
const CB_LEFT = 230, CB_RIGHT = 833, CB_TOP = 979, CB_H = 23;
const cellW = (CB_RIGHT - CB_LEFT) / bandColors.length;
bandColors.forEach((c, i) => {
  const r = svgEl('rect', { x: CB_LEFT + i * cellW, y: CB_TOP, width: cellW, height: CB_H, fill: c, stroke: '#000', 'stroke-width': 1 }, cb);
  
  
});
colorbarLabels.forEach((label, i) => {
  const t = svgEl('text', { x: CB_LEFT + (i + 1) * cellW, y: 1031, 'text-anchor': 'middle', 'font-size': 31 }, cb);
  
  
  t.textContent = label;
});
</script>
</svg>
</body>
</html>
